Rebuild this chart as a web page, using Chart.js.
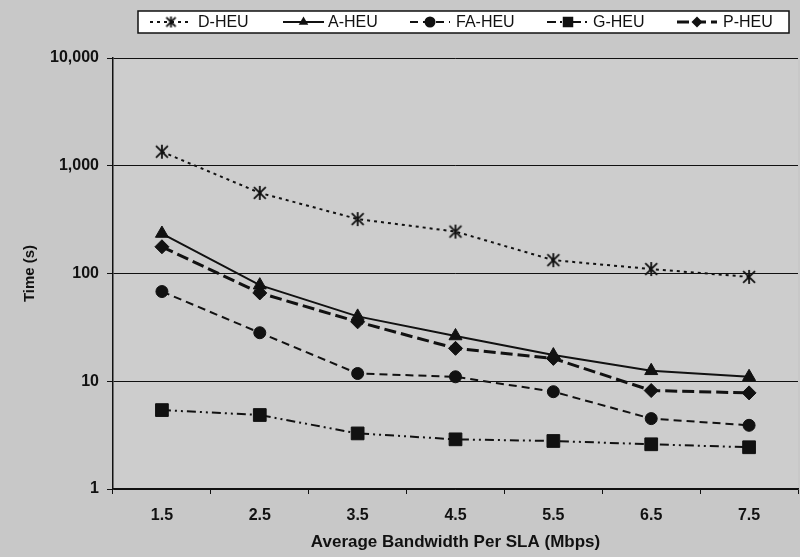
<!DOCTYPE html>
<html>
<head>
<meta charset="utf-8">
<script src="https://cdn.jsdelivr.net/npm/chart.js@4.4.1/dist/chart.umd.min.js"></script>
<style>
  html, body { margin: 0; padding: 0; background: #c9c9c9; }
  #wrap { width: 800px; height: 557px; position: relative; }
</style>
</head>
<body>
<div id="wrap"><canvas id="c" width="800" height="557"></canvas></div>
<script>
// Bandwidth categories (Mbps)
const categories = ['1.5', '2.5', '3.5', '4.5', '5.5', '6.5', '7.5'];

// Run time (s) for each heuristic
const dHeu  = [1350, 560, 320, 245, 133, 110, 93];
const aHeu  = [235, 78, 40, 26.3, 17.5, 12.5, 11.0];
const faHeu = [68, 28.2, 11.8, 11.0, 8.0, 4.5, 3.9];
const gHeu  = [5.4, 4.86, 3.28, 2.89, 2.79, 2.6, 2.44];
const pHeu  = [177, 66, 35.6, 20.2, 16.3, 8.2, 7.8];

// Decade ticks on the log axis
const yTicks = [1, 10, 100, 1000, 10000];

const seriesNames = ['D-HEU', 'A-HEU', 'FA-HEU', 'G-HEU', 'P-HEU'];

const ink = '#111111';
const fontFamily = '"Liberation Sans", Arial, sans-serif';

// Asterisk marker glyph (vertical stroke plus two diagonals)
function asteriskGlyph(size) {
  const cv = document.createElement('canvas');
  cv.width = size; cv.height = size;
  const g = cv.getContext('2d');
  const c = size / 2, r = size / 2 - 1;
  g.strokeStyle = ink;
  g.lineWidth = 1.8;
  g.beginPath();
  g.moveTo(c, c - r); g.lineTo(c, c + r);
  const d = r * 0.85;
  g.moveTo(c - d, c - d); g.lineTo(c + d, c + d);
  g.moveTo(c + d, c - d); g.lineTo(c - d, c + d);
  g.stroke();
  return cv;
}
const asterisk = asteriskGlyph(16);
const asteriskSmall = asteriskGlyph(13);

const styles = [
  { dash: [3, 4],              width: 2,   point: asterisk,   radius: 7 },
  { dash: [],                  width: 2,   point: 'triangle', radius: 7.5 },
  { dash: [8, 5],              width: 2,   point: 'circle',   radius: 6 },
  { dash: [9, 4, 2, 4, 2, 4],  width: 2,   point: 'rect',     radius: 9 },
  { dash: [12, 5],             width: 3,   point: 'rectRot',  radius: 7 }
];

const values = [dHeu, aHeu, faHeu, gHeu, pHeu];

const datasets = seriesNames.map((name, i) => ({
  label: name,
  data: values[i],
  borderColor: ink,
  backgroundColor: ink,
  borderWidth: styles[i].width,
  borderDash: styles[i].dash,
  pointStyle: styles[i].point,
  pointRadius: styles[i].radius,
  pointHoverRadius: styles[i].radius,
  pointBorderWidth: 1,
  pointBackgroundColor: ink,
  pointBorderColor: ink,
  tension: 0,
  fill: false
}));

// Marker drawn inside the legend box
function drawMarker(ctx, style, x, y, r) {
  ctx.save();
  ctx.fillStyle = ink;
  ctx.strokeStyle = ink;
  ctx.setLineDash([]);
  ctx.beginPath();
  if (typeof style !== 'string') {
    ctx.drawImage(asteriskSmall, x - 6.5, y - 6.5);
    ctx.restore();
    return;
  }
  switch (style) {
    case 'triangle':
      ctx.moveTo(x, y - r);
      ctx.lineTo(x + r * 0.87, y + r * 0.5);
      ctx.lineTo(x - r * 0.87, y + r * 0.5);
      ctx.closePath();
      ctx.fill();
      break;
    case 'circle':
      ctx.arc(x, y, r, 0, Math.PI * 2);
      ctx.fill();
      break;
    case 'rect':
      ctx.rect(x - r * 0.7, y - r * 0.7, r * 1.4, r * 1.4);
      ctx.fill();
      break;
    case 'rectRot':
      ctx.moveTo(x, y - r);
      ctx.lineTo(x + r, y);
      ctx.lineTo(x, y + r);
      ctx.lineTo(x - r, y);
      ctx.closePath();
      ctx.fill();
      break;
  }
  ctx.restore();
}

// Gray page and plot area backgrounds
const backgroundPlugin = {
  id: 'panelBackground',
  beforeDraw(chart) {
    const { ctx, chartArea: a } = chart;
    ctx.save();
    ctx.fillStyle = '#c8c8c8';
    ctx.fillRect(0, 0, chart.width, chart.height);
    ctx.fillStyle = '#cdcdcd';
    ctx.fillRect(a.left, a.top, a.right - a.left, a.bottom - a.top);
    ctx.restore();
  }
};

// Boxed legend with line samples across the top
const legendItems = [
  { x0: 150, x1: 192, text: 198 },
  { x0: 283, x1: 324, text: 328 },
  { x0: 410, x1: 450, text: 456 },
  { x0: 547, x1: 589, text: 593 },
  { x0: 677, x1: 717, text: 723 }
];

const legendPlugin = {
  id: 'boxedLegend',
  afterDraw(chart) {
    const ctx = chart.ctx;
    const boxL = 138, boxT = 11, boxR = 789, boxB = 33;
    ctx.save();
    ctx.fillStyle = '#ffffff';
    ctx.fillRect(boxL, boxT, boxR - boxL, boxB - boxT);
    ctx.lineWidth = 1.5;
    ctx.strokeStyle = ink;
    ctx.strokeRect(boxL, boxT, boxR - boxL, boxB - boxT);

    const cy = (boxT + boxB) / 2;
    ctx.font = '16px ' + fontFamily;
    ctx.textBaseline = 'middle';
    ctx.textAlign = 'left';
    seriesNames.forEach((name, i) => {
      const s = styles[i];
      const it = legendItems[i];
      ctx.save();
      ctx.strokeStyle = ink;
      ctx.lineWidth = s.width;
      ctx.setLineDash(s.dash);
      ctx.beginPath();
      ctx.moveTo(it.x0, cy);
      ctx.lineTo(it.x1, cy);
      ctx.stroke();
      ctx.restore();
      const mr = s.point === 'rect' ? 7.5 : 5.5;
      drawMarker(ctx, s.point, (it.x0 + it.x1) / 2, cy, mr);
      ctx.fillStyle = ink;
      ctx.fillText(name, it.text, cy + 1);
    });
    ctx.restore();
  }
};

const tickFont = { family: fontFamily, size: 16, weight: 'bold' };

new Chart(document.getElementById('c'), {
  type: 'line',
  data: { labels: categories, datasets },
  plugins: [backgroundPlugin, legendPlugin],
  options: {
    responsive: false,
    animation: false,
    devicePixelRatio: 1,
    layout: { autoPadding: false, padding: { top: 58, right: 2, left: 0, bottom: 0 } },
    plugins: {
      legend: { display: false },
      tooltip: { enabled: false }
    },
    scales: {
      x: {
        type: 'category',
        offset: true,
        afterFit(scale) {
          scale.height = 68;
          scale.paddingLeft = 0;
          scale.paddingRight = 0;
        },
        grid: {
          offset: true,
          drawOnChartArea: false,
          drawTicks: true,
          tickLength: 5,
          color: ink,
          lineWidth: 1
        },
        border: { display: true, color: ink, width: 1.5 },
        ticks: { color: ink, font: tickFont, padding: 12, maxRotation: 0 },
        title: {
          display: true,
          text: 'Average Bandwidth Per SLA (Mbps)',
          color: ink,
          font: { family: fontFamily, size: 17, weight: 'bold' },
          padding: { top: 0, bottom: 4 }
        }
      },
      y: {
        type: 'logarithmic',
        min: 1,
        max: 10000,
        afterFit(scale) {
          scale.width = 113;
          scale.paddingTop = 0;
          scale.paddingBottom = 0;
        },
        afterBuildTicks(scale) {
          scale.ticks = yTicks.map(v => ({ value: v, major: true }));
        },
        grid: {
          drawOnChartArea: true,
          drawTicks: true,
          tickLength: 6,
          color: ink,
          lineWidth: 1
        },
        border: { display: true, color: ink, width: 1.5 },
        ticks: {
          color: ink,
          font: tickFont,
          padding: 8,
          autoSkip: false,
          callback(v) { return Number(v).toLocaleString('en-US'); }
        },
        title: {
          display: true,
          text: 'Time (s)',
          color: ink,
          font: { family: fontFamily, size: 15, weight: 'bold' },
          padding: { top: 21, bottom: 0 }
        }
      }
    }
  }
});
</script>
</body>
</html>
